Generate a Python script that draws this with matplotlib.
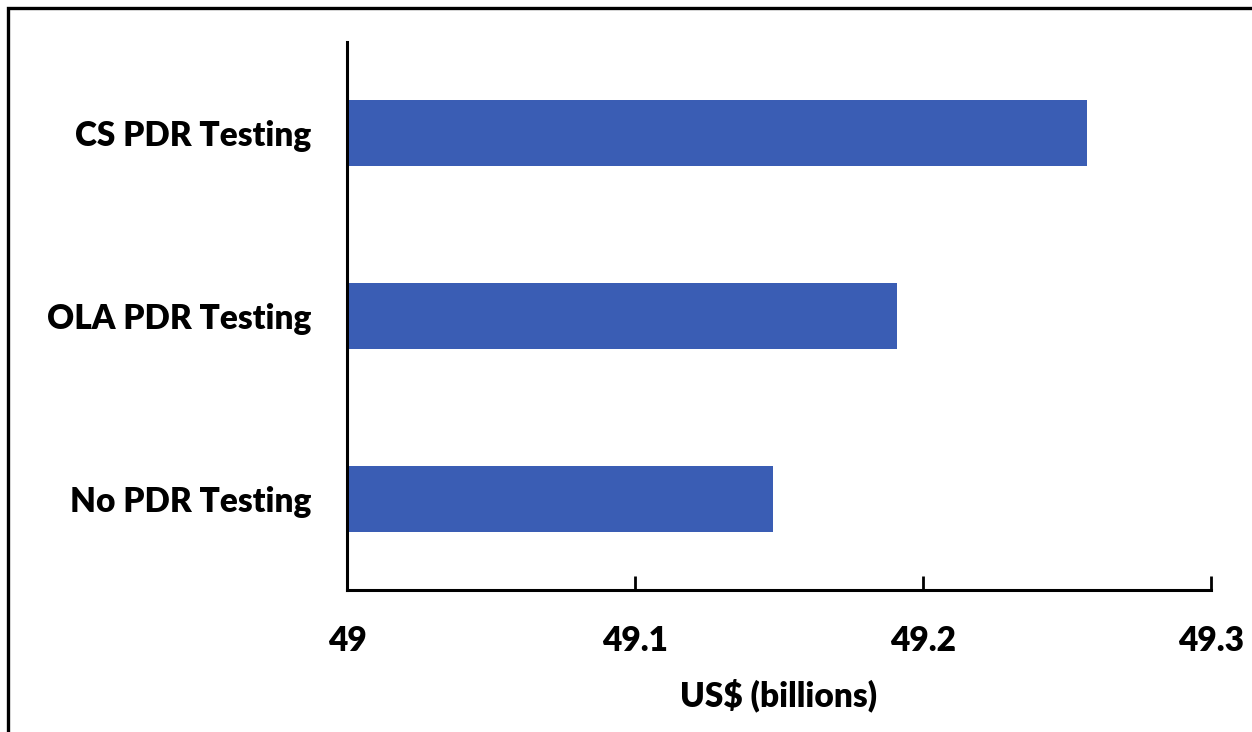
import matplotlib.pyplot as plt
from matplotlib.patches import Rectangle

scenarios = ["No PDR Testing", "OLA PDR Testing", "CS PDR Testing"]
costs = [49.148, 49.191, 49.257]
xticks = [49, 49.1, 49.2, 49.3]
xtick_labels = ["49", "49.1", "49.2", "49.3"]

plt.rcParams['font.family'] = ['Lato', 'DejaVu Sans']

fig = plt.figure(figsize=(12.52, 7.32), dpi=100)
ax = fig.add_axes([0.2772, 0.194, 0.6901, 0.7486])

ax.barh(range(len(scenarios)), [c - 49 for c in costs], left=49,
        height=0.36, color='#3a5db4')

ax.set_xlim(49, 49.3)
ax.set_ylim(-0.5, 2.5)
ax.set_xticks(xticks)
ax.set_xticklabels(xtick_labels, fontsize=24, fontweight='heavy')
ax.set_yticks(range(len(scenarios)))
ax.set_yticklabels(scenarios, fontsize=24, fontweight='heavy')
ax.tick_params(axis='y', length=0, pad=26)
ax.tick_params(axis='x', direction='in', length=10, width=2, pad=25)
ax.set_xlabel("US$ (billions)", fontsize=24, fontweight='heavy', labelpad=16)

for side in ['top', 'right']:
    ax.spines[side].set_visible(False)
for side in ['left', 'bottom']:
    ax.spines[side].set_linewidth(2.2)

# outer frame (only left and top edges fall inside the canvas)
fig.patches.append(Rectangle((0.0064, -0.05), 1.2, 1.039, transform=fig.transFigure,
                             fill=False, edgecolor='black', linewidth=2.4))

fig.savefig("out.png", dpi=100)
